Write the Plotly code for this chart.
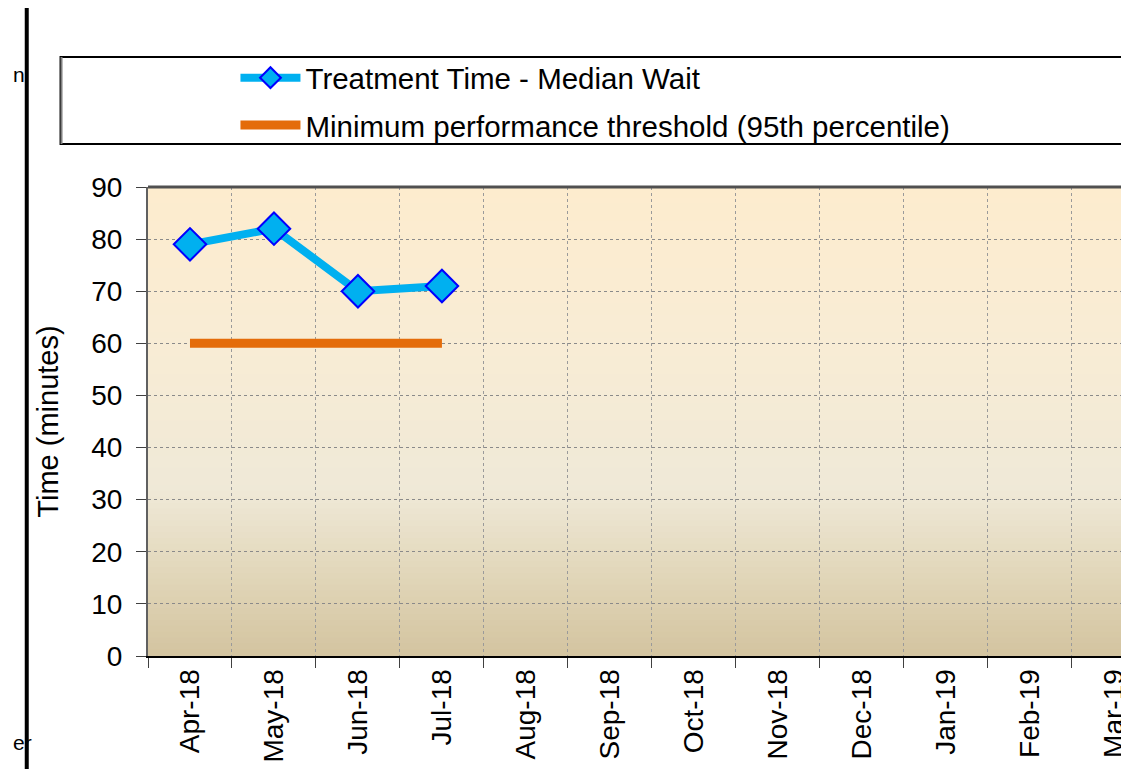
import plotly.graph_objects as go

months = ["Apr-18", "May-18", "Jun-18", "Jul-18", "Aug-18", "Sep-18",
          "Oct-18", "Nov-18", "Dec-18", "Jan-19", "Feb-19", "Mar-19"]
treat_months = ["Apr-18", "May-18", "Jun-18", "Jul-18"]
treatment_median = [79, 82, 70, 71]
threshold = [60, 60, 60, 60]
y_ticks = [0, 10, 20, 30, 40, 50, 60, 70, 80, 90]

FONT = "Liberation Sans, Arial, sans-serif"
OFF = 8  # page body margin
W, H = 1129 - OFF, 769 - OFF
L, T = 148 - OFF, 187 - OFF
B = H - (656 - OFF)
PW = W - L
PH = H - T - B

def px_x(x):  # page pixel -> paper
    return (x - OFF - L) / PW

def px_y(y):
    return (H - B - (y - OFF)) / PH

fig = go.Figure()

fig.add_trace(go.Scatter(
    x=treat_months, y=treatment_median, name="Treatment Time - Median Wait",
    mode="lines+markers", legendgroup="a",
    line=dict(color="#00B0F0", width=8),
    marker=dict(symbol="diamond", size=25, color="#00B0F0",
                line=dict(color="#0000FF", width=2)),
))
fig.add_trace(go.Scatter(
    x=treat_months, y=threshold, name="Minimum performance threshold (95th percentile)",
    mode="lines", legendgroup="b",
    line=dict(color="#E46C0A", width=9),
))

# gradient background of the plot area (top -> bottom)
stops = [(0.0, (253, 236, 206)), (0.35, (248, 236, 213)), (0.65, (239, 233, 215)),
         (0.85, (224, 212, 182)), (1.0, (211, 196, 160))]

def col_at(t):
    for (t0, c0), (t1, c1) in zip(stops[:-1], stops[1:]):
        if t0 <= t <= t1:
            f = (t - t0) / (t1 - t0) if t1 > t0 else 0
            return tuple(round(a + (b - a) * f) for a, b in zip(c0, c1))
    return stops[-1][1]

shapes = []
N = 80
for i in range(N):
    t = (i + 0.5) / N
    r, g, b = col_at(t)
    shapes.append(dict(type="rect", xref="x domain", yref="y domain",
                       x0=0, x1=1, y0=1 - (i + 1) / N, y1=1 - i / N + 0.002,
                       fillcolor=f"rgb({r},{g},{b})", line=dict(width=0), layer="below"))

# legend box
shapes.append(dict(type="rect", xref="paper", yref="paper",
                   x0=px_x(60), x1=px_x(1140), y0=px_y(144), y1=px_y(57),
                   line=dict(color="#000000", width=2), fillcolor="rgba(0,0,0,0)"))
shapes.append(dict(type="line", xref="paper", yref="paper",
                   x0=px_x(61), x1=px_x(61), y0=px_y(144), y1=px_y(57),
                   line=dict(color="#808080", width=2)))
# plot area top border
shapes.append(dict(type="line", xref="paper", yref="paper",
                   x0=0, x1=1.01, y0=1, y1=1,
                   line=dict(color="#505050", width=3)))
# black frame line on the left
shapes.append(dict(type="line", xref="paper", yref="paper",
                   x0=px_x(26), x1=px_x(26), y0=px_y(780), y1=px_y(8),
                   line=dict(color="#000000", width=4)))
shapes.append(dict(type="line", xref="paper", yref="paper",
                   x0=px_x(26), x1=px_x(26), y0=px_y(9), y1=px_y(-5),
                   line=dict(color="#000000", width=1)))

fig.update_layout(
    width=W, height=H,
    margin=dict(l=L, r=0, t=T, b=B),
    paper_bgcolor="white", plot_bgcolor="rgba(0,0,0,0)",
    font=dict(family=FONT, color="#000000"),
    shapes=shapes,
    showlegend=True,
    legend=dict(
        x=px_x(236), y=px_y(52), xanchor="left", yanchor="top",
        font=dict(family=FONT, size=29.5, color="#000000"),
        bgcolor="rgba(0,0,0,0)", borderwidth=0,
        traceorder="grouped", tracegroupgap=6, itemwidth=60,
    ),
    xaxis=dict(
        type="category", categoryorder="array", categoryarray=months,
        range=[-0.5, -0.5 + PW / 84.5],
        tickmode="array", tickvals=months, ticktext=months,
        tickson="boundaries", ticks="outside", ticklen=10, tickwidth=1,
        tickcolor="#404040",
        tickangle=-90, tickfont=dict(family=FONT, size=28, color="#000000"),
        showgrid=True, gridcolor="#9a9a9a", griddash="dot", gridwidth=1,
        showline=True, linecolor="#000000", linewidth=2,
        zeroline=False, fixedrange=True,
    ),
    yaxis=dict(
        range=[0, 90], tickvals=y_ticks,
        ticks="outside", ticklen=10, tickwidth=1, tickcolor="#404040",
        tickfont=dict(family=FONT, size=28, color="#000000"),
        ticklabelstandoff=8,
        showgrid=True, gridcolor="#8a8a8a", griddash="dot", gridwidth=1,
        showline=True, linecolor="#606060", linewidth=2,
        zeroline=False,
        title=dict(text="Time (minutes)", font=dict(family=FONT, size=29, color="#000000"),
                   standoff=24),
    ),
    annotations=[
        dict(text="n", xref="paper", yref="paper", x=px_x(OFF + 2), y=px_y(75),
             xanchor="left", yanchor="middle", showarrow=False,
             font=dict(family=FONT, size=21, color="#000000")),
        dict(text="er", xref="paper", yref="paper", x=px_x(OFF + 2), y=px_y(742),
             xanchor="left", yanchor="middle", showarrow=False,
             font=dict(family=FONT, size=21, color="#000000")),
    ],
)

fig.write_html("out.html")
